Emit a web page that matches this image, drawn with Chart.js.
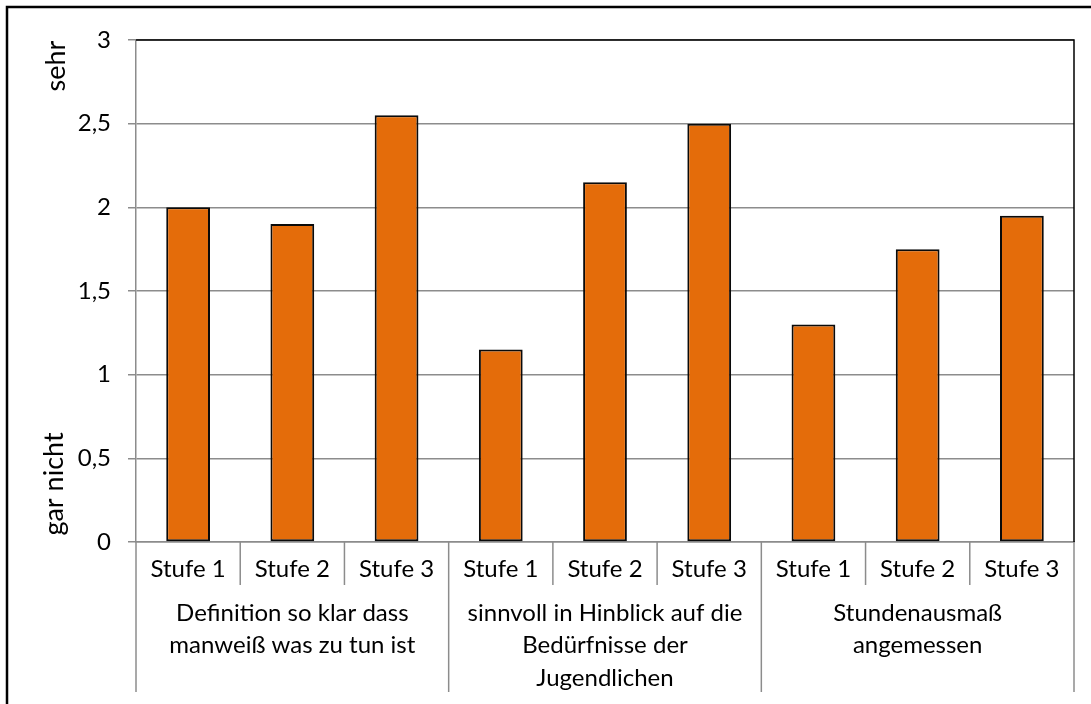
<!DOCTYPE html>
<html>
<head>
<meta charset="utf-8">
<script src="https://cdn.jsdelivr.net/npm/chart.js@4/dist/chart.umd.min.js"></script>
<style>
  html, body { margin: 0; padding: 0; background: #fff; overflow: hidden; }
  #wrap { position: relative; width: 1091px; height: 704px; }
</style>
</head>
<body>
<div id="wrap"><canvas id="c" width="1091" height="704"></canvas></div>
<script>
// Rating levels per category (0 = gar nicht, 3 = sehr)
const categories = ['Stufe 1', 'Stufe 2', 'Stufe 3', 'Stufe 1', 'Stufe 2', 'Stufe 3', 'Stufe 1', 'Stufe 2', 'Stufe 3'];
const values = [2.0, 1.9, 2.55, 1.15, 2.15, 2.5, 1.3, 1.75, 1.95];
const groupLabels = [
  ['Definition so klar dass', 'manweiß was zu tun ist'],
  ['sinnvoll in Hinblick auf die', 'Bedürfnisse der', 'Jugendlichen'],
  ['Stundenausmaß', 'angemessen']
];
const groupSizes = [3, 3, 3];
const axisEnds = ['gar nicht', 'sehr'];
const yRange = [0, 3, 0.5];

const FONT = 'Lato, "Open Sans", sans-serif';
const GRID = '#8c8c8c';

const decorations = {
  id: 'decorations',
  afterDraw(chart) {
    const ctx = chart.ctx;
    const x = chart.scales.x, y = chart.scales.y;
    const area = chart.chartArea;
    ctx.save();

    // plot frame: black top and right edges
    ctx.strokeStyle = '#000';
    ctx.lineWidth = 1.5;
    ctx.beginPath();
    ctx.moveTo(area.left, area.top);
    ctx.lineTo(area.right, area.top);
    ctx.lineTo(area.right, area.bottom);
    ctx.stroke();

    // category separators
    const n = categories.length;
    const bounds = [];
    for (let i = 0; i <= n; i++) {
      if (i === 0) bounds.push(area.left);
      else if (i === n) bounds.push(area.right);
      else bounds.push((x.getPixelForValue(i - 1) + x.getPixelForValue(i)) / 2);
    }
    const groupEdges = new Set([0]);
    let acc = 0;
    groupSizes.forEach(s => { acc += s; groupEdges.add(acc); });

    ctx.strokeStyle = GRID;
    ctx.lineWidth = 1.5;
    bounds.forEach((bx, i) => {
      const len = groupEdges.has(i) ? 150 : 43;
      ctx.beginPath();
      ctx.moveTo(bx, area.bottom);
      ctx.lineTo(bx, area.bottom + len);
      ctx.stroke();
    });

    // level labels
    ctx.fillStyle = '#000';
    ctx.font = '24px ' + FONT;
    ctx.textAlign = 'center';
    ctx.textBaseline = 'alphabetic';
    categories.forEach((c, i) => {
      ctx.fillText(c, x.getPixelForValue(i), area.bottom + 35);
    });

    // group labels
    let start = 0;
    groupSizes.forEach((s, g) => {
      const cx = (bounds[start] + bounds[start + s]) / 2;
      groupLabels[g].forEach((line, k) => {
        ctx.fillText(line, cx, area.bottom + 79 + k * 32.3);
      });
      start += s;
    });

    // scale end labels
    ctx.font = '27px ' + FONT;
    ctx.textAlign = 'center';
    ctx.textBaseline = 'alphabetic';
    [[axisEnds[1], y.getPixelForValue(yRange[1]) + 26, 65], [axisEnds[0], y.getPixelForValue(yRange[0]) - 58, 63]].forEach(([t, py, px]) => {
      ctx.save();
      ctx.translate(px, py);
      ctx.rotate(-Math.PI / 2);
      ctx.fillText(t, 0, 0);
      ctx.restore();
    });

    // outer frame
    ctx.strokeStyle = '#000';
    ctx.lineWidth = 2.5;
    ctx.strokeRect(7, 7, 1300, 900);
    ctx.restore();
  }
};

new Chart(document.getElementById('c'), {
  type: 'bar',
  data: {
    labels: categories,
    datasets: [{
      data: values,
      backgroundColor: '#e46c0a',
      borderColor: '#0a0a0a',
      borderWidth: 2,
      borderSkipped: false,
      categoryPercentage: 1,
      barPercentage: 0.42
    }]
  },
  options: {
    responsive: false,
    animation: false,
    devicePixelRatio: 1,
    layout: { padding: { top: 40, right: 17, left: 0, bottom: 0 } },
    plugins: { legend: { display: false }, tooltip: { enabled: false } },
    scales: {
      x: {
        grid: { display: false },
        border: { display: true, color: GRID, width: 1.5 },
        ticks: { display: false },
        afterFit(scale) { scale.height = 162; }
      },
      y: {
        min: yRange[0],
        max: yRange[1],
        grid: { color: GRID, lineWidth: 1.5, tickLength: 8 },
        border: { display: true, color: GRID, width: 1.5 },
        ticks: {
          stepSize: yRange[2],
          padding: 17,
          color: '#000',
          font: { family: FONT, size: 24 },
          callback: v => String(v).replace('.', ',')
        },
        afterFit(scale) { scale.width = 136; }
      }
    }
  },
  plugins: [decorations]
});
</script>
</body>
</html>
